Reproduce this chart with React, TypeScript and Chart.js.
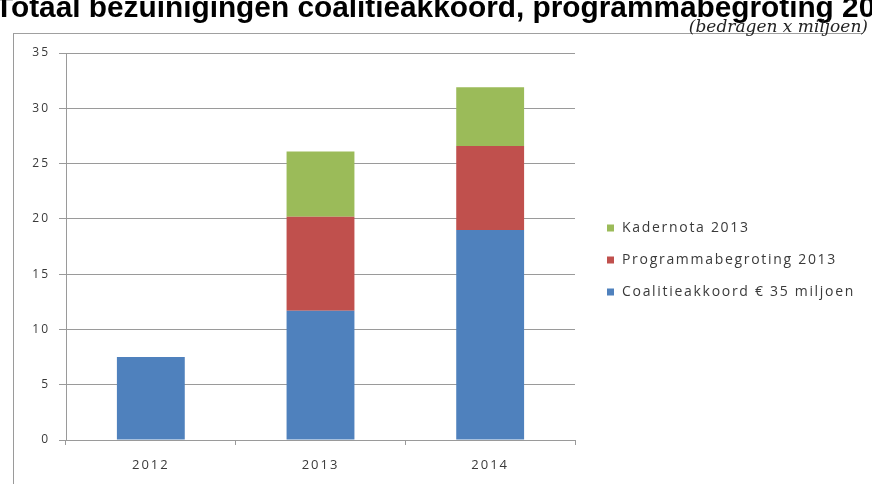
import React, { useEffect, useRef } from "react";
import { Chart, registerables } from "chart.js";

Chart.register(...registerables);

const titleText = "Totaal bezuinigingen coalitieakkoord, programmabegroting 2013";
const subtitleText = "(bedragen x miljoen)";
const categories = ["2012", "2013", "2014"];
const seriesLabels = ["Coalitieakkoord € 35 miljoen", "Programmabegroting 2013", "Kadernota 2013"];
const coalitieakkoord = [7.5, 11.7, 19.0];
const programmabegroting = [0, 8.5, 7.6];
const kadernota = [0, 5.9, 5.3];
const seriesColors = ["#4F81BD", "#C0504D", "#9BBB59"];
const yMin = 0;
const yMax = 35;
const yStep = 5;

const legendPlugin = {
  id: "customLegend",
  beforeDraw(chart: any) {
    chart.ctx.letterSpacing = "2px";
  },
  afterDraw(chart: any) {
    const ctx = chart.ctx;
    ctx.save();
    ctx.letterSpacing = "1.7px";
    ctx.font = '14px "Open Sans"';
    ctx.textBaseline = "middle";
    ctx.textAlign = "left";
    const ds = chart.data.datasets;
    let row = 0;
    for (let i = ds.length - 1; i >= 0; i--, row++) {
      const y = 228 + row * 32;
      ctx.fillStyle = ds[i].backgroundColor;
      ctx.fillRect(607, y - 3.5, 7, 7);
      ctx.fillStyle = "#3a3a3a";
      ctx.fillText(ds[i].label, 622, y);
    }
    ctx.restore();
    ctx.letterSpacing = "0px";
  },
};

export default function App() {
  const canvasRef = useRef<HTMLCanvasElement | null>(null);

  useEffect(() => {
    const canvas = canvasRef.current;
    if (!canvas) return;
    const values = [coalitieakkoord, programmabegroting, kadernota];
    const chart = new Chart(canvas, {
      type: "bar",
      data: {
        labels: categories,
        datasets: values.map((v, i) => ({
          label: seriesLabels[i],
          data: v,
          backgroundColor: seriesColors[i],
          borderWidth: 0,
          categoryPercentage: 1,
          barPercentage: 0.4,
        })),
      },
      options: {
        responsive: false,
        animation: false,
        devicePixelRatio: 1,
        layout: { padding: { left: 0, right: 297, top: 53, bottom: 0 } },
        plugins: {
          legend: { display: false },
          title: { display: false },
          tooltip: { enabled: false },
        },
        scales: {
          x: {
            stacked: true,
            offset: true,
            grid: {
              display: true,
              drawOnChartArea: false,
              drawTicks: true,
              tickLength: 5,
              offset: true,
              color: "#9a9a9a",
            },
            border: { display: true, color: "#9a9a9a", width: 1 },
            ticks: {
              color: "#3a3a3a",
              font: { family: "Open Sans", size: 13 },
              padding: 12,
            },
            afterFit: (s: any) => {
              s.height = 44;
            },
          },
          y: {
            stacked: true,
            min: yMin,
            max: yMax,
            ticks: {
              stepSize: yStep,
              color: "#3a3a3a",
              font: { family: "Open Sans", size: 12 },
              padding: 9,
            },
            grid: { color: "#9a9a9a", tickLength: 7, drawTicks: true, lineWidth: 1 },
            border: { display: true, color: "#9a9a9a", width: 1 },
            afterFit: (s: any) => {
              s.width = 66;
            },
          },
        },
      },
      plugins: [legendPlugin],
    });
    return () => chart.destroy();
  }, []);

  return (
    <div
      style={{
        position: "absolute",
        left: 0,
        top: 0,
        width: 872,
        height: 484,
        background: "#fff",
        overflow: "hidden",
      }}
    >
      <div
        style={{
          position: "absolute",
          left: 13,
          top: 33,
          width: 849,
          height: 460,
          borderLeft: "1.5px solid #9a9a9a",
          borderTop: "1.5px solid #a0a0a0",
        }}
      />
      <canvas
        ref={canvasRef}
        width={872}
        height={484}
        style={{ position: "absolute", left: 0, top: 0, width: 872, height: 484 }}
      />
      <div
        style={{
          position: "absolute",
          left: -5,
          top: -8.2,
          width: 900,
          whiteSpace: "nowrap",
          font: 'bold 29.8px "Liberation Sans", Arial, sans-serif',
          lineHeight: "29.8px",
          color: "#000",
        }}
      >
        {titleText}
      </div>
      <div
        style={{
          position: "absolute",
          right: 4,
          top: 17.5,
          whiteSpace: "nowrap",
          font: 'italic 17px "DejaVu Serif", serif',
          lineHeight: "17px",
          color: "#222",
        }}
      >
        {subtitleText}
      </div>
    </div>
  );
}
